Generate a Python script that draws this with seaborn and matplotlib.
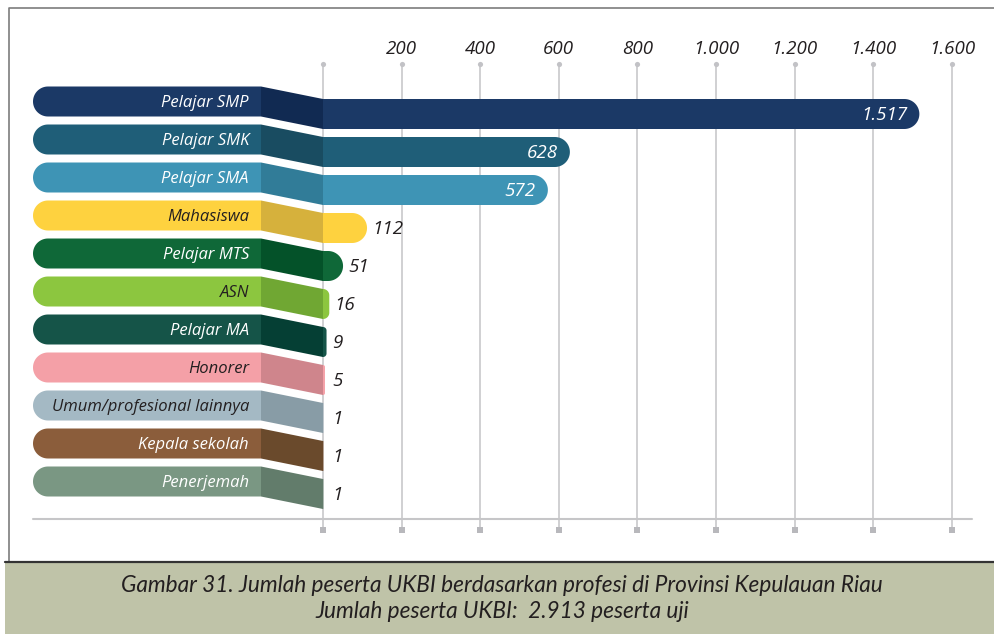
import matplotlib
matplotlib.use("Agg")
import matplotlib.pyplot as plt
import numpy as np
import pandas as pd
import seaborn as sns
from matplotlib.patches import Polygon, Rectangle

# data
categories = [
    "Pelajar SMP", "Pelajar SMK", "Pelajar SMA", "Mahasiswa", "Pelajar MTS",
    "ASN", "Pelajar MA", "Honorer", "Umum/profesional lainnya",
    "Kepala sekolah", "Penerjemah",
]
values = [1517, 628, 572, 112, 51, 16, 9, 5, 1, 1, 1]
bar_colors = [
    "#1b3966", "#1f5e78", "#3e94b5", "#fed23f", "#0f6838", "#8cc63f",
    "#155448", "#f4a0a7", "#a4b9c4", "#8b5d3b", "#7a9783",
]
fold_colors = [
    "#112a52", "#194c61", "#317c98", "#d6b13c", "#045229", "#70a733",
    "#053f34", "#cf858c", "#889ca6", "#6a4a2c", "#627c6b",
]
dark_text = {"Mahasiswa", "ASN", "Honorer", "Umum/profesional lainnya"}
tick_values = [0, 200, 400, 600, 800, 1000, 1200, 1400, 1600]
caption_lines = [
    "Gambar 31. Jumlah peserta UKBI berdasarkan profesi di Provinsi Kepulauan Riau",
    "Jumlah peserta UKBI:  2.913 peserta uji",
]

W, H = 995, 634
X0, SX = 323, 629 / 1600      # pixel of value 0, pixels per unit
Y0, SY = 114, 38              # pixel of first bar centre, pixels per row
BAR_PX = 30
TAB_LEFT, TAB_RIGHT, TAB_SHIFT = 33, 261, 12.5
INK = "#231f20"
FONT = ["Open Sans", "DejaVu Sans"]


def to_data(px, py):
    return (px - X0) / SX, (py - Y0) / SY


def rounded_px(x0, x1, y0, y1, r_left=0.0, r_right=0.0, n=18):
    """Rectangle in pixel space with optional round corners on left/right."""
    pts = []
    corners = [
        (x1 - r_right, y0 + r_right, r_right, -np.pi / 2, 0),
        (x1 - r_right, y1 - r_right, r_right, 0, np.pi / 2),
        (x0 + r_left, y1 - r_left, r_left, np.pi / 2, np.pi),
        (x0 + r_left, y0 + r_left, r_left, np.pi, 1.5 * np.pi),
    ]
    for cx, cy, r, a, b in corners:
        for t in np.linspace(a, b, n):
            pts.append(to_data(cx + r * np.cos(t), cy + r * np.sin(t)))
    return pts


sns.set_theme(style="white")
fig = plt.figure(figsize=(W / 100, H / 100), dpi=100)
ax = fig.add_axes([0, 0, 1, 1])

df = pd.DataFrame({"profesi": categories, "jumlah": values})
sns.barplot(
    data=df, x="jumlah", y="profesi", hue="profesi", palette=bar_colors,
    orient="h", width=BAR_PX / SY, saturation=1, legend=False, ax=ax,
)

ax.set_xlim(to_data(0, 0)[0], to_data(W, 0)[0])
ax.set_ylim(to_data(0, H)[1], to_data(0, 0)[1])
ax.axis("off")

# swap seaborn's rectangles for rounded bars, add tab + fold
bars = [(p.get_x(), p.get_width(), p.get_y(), p.get_height()) for p in ax.patches]
for p in list(ax.patches):
    p.remove()

for x, w, y, h in bars:
    i = int(round(y + h / 2))
    left = X0 + x * SX
    right = X0 + (x + w) * SX
    top = Y0 + y * SY
    bot = Y0 + (y + h) * SY
    mid = (top + bot) / 2
    r = min(BAR_PX / 2, right - left)
    ax.add_patch(Polygon(rounded_px(left, right, top, bot, r_right=r),
                         closed=True, fc=bar_colors[i], ec="none", zorder=2))
    # label tab on the left
    ax.add_patch(Polygon(rounded_px(TAB_LEFT, TAB_RIGHT, top - TAB_SHIFT, bot - TAB_SHIFT,
                                    r_left=BAR_PX / 2),
                         closed=True, fc=bar_colors[i], ec="none", zorder=3))
    fold = [to_data(TAB_RIGHT, top - TAB_SHIFT), to_data(X0, top),
            to_data(X0, bot), to_data(TAB_RIGHT, bot - TAB_SHIFT)]
    ax.add_patch(Polygon(fold, closed=True, fc=fold_colors[i], ec="none", zorder=3))

    name = categories[i]
    tx, ty = to_data(TAB_RIGHT - 12, mid - TAB_SHIFT + 5.5)
    ax.text(tx, ty, name, ha="right", va="baseline", fontsize=12, style="italic",
            family=FONT, color=INK if name in dark_text else "white", zorder=5)

    v = values[i]
    label = f"{v:,}".replace(",", ".")
    by = to_data(0, mid + 6.5)[1]
    if v >= 500:
        ax.text(to_data(right - 12, 0)[0], by, label, ha="right", va="baseline",
                fontsize=13.5, style="italic", family=FONT, color="white", zorder=5)
    else:
        end = max(right, left + 4)
        ax.text(to_data(end + 5, 0)[0], by, label, ha="left", va="baseline",
                fontsize=13.5, style="italic", family=FONT, color=INK, zorder=5)

# grid lines with dot on top and square at the bottom
g_top = to_data(0, 64)[1]
g_bot = to_data(0, 527)[1]
ax.vlines(tick_values, g_top, g_bot, colors="#cdcdcf", lw=1.3, zorder=0)
ax.scatter(tick_values, [g_top] * len(tick_values), s=14, marker="o",
           color="#c2c2c6", zorder=1, linewidths=0)
ax.scatter(tick_values, [to_data(0, 529.5)[1]] * len(tick_values), s=22, marker="s",
           color="#b8b8bc", zorder=1, linewidths=0)
for t in tick_values[1:]:
    ax.text(t, to_data(0, 54)[1], f"{t:,}".replace(",", "."), ha="center", va="baseline",
            fontsize=13.5, style="italic", family=FONT, color=INK)

# baseline
bx0, by = to_data(TAB_LEFT, 519)
bx1, _ = to_data(972, 519)
ax.plot([bx0, bx1], [by, by], color="#c6c6c8", lw=1.5, zorder=1)

# outer frame
fx0, fy0 = to_data(9, 8)
fx1, fy1 = to_data(W + 5, 562)
ax.plot([fx1, fx0, fx0], [fy0, fy0, fy1], color="#7d7d7d", lw=1.2, zorder=1, clip_on=False)
ax.plot([to_data(5, 0)[0], fx1], [fy1, fy1], color="#333333", lw=1.6, zorder=6)

# caption band
cx0, cy0 = to_data(5, 563)
cx1, cy1 = to_data(W, H)
ax.add_patch(Rectangle((cx0, cy0), cx1 - cx0, cy1 - cy0, fc="#bfc3a8", ec="none", zorder=5))
for k, line in enumerate(caption_lines):
    ax.text(to_data(502, 0)[0], to_data(0, 592 + 26 * k)[1], line, ha="center", va="baseline",
            fontsize=16.3, style="italic", family=["Lato", "DejaVu Sans"],
            color=INK, zorder=6)

fig.savefig("out.png", dpi=100)
